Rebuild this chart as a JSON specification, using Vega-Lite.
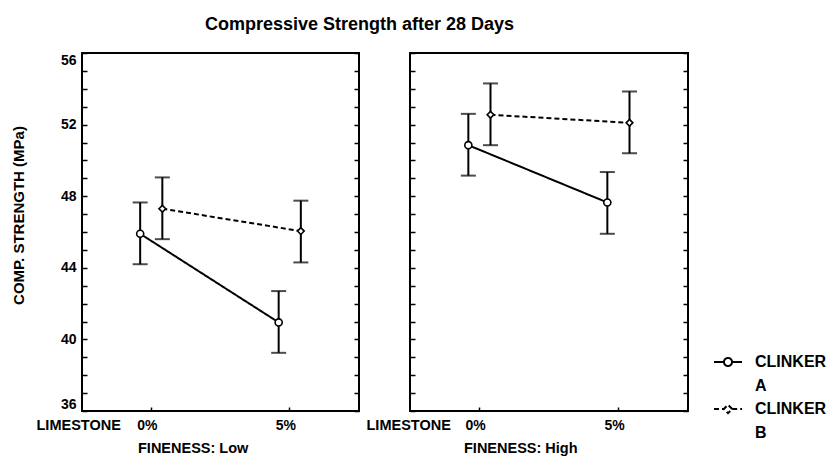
{
  "$schema": "https://vega.github.io/schema/vega-lite/v6.json",
  "padding": {"left": 10, "top": 16, "right": 0, "bottom": 0},
  "bounds": "flush",
  "spacing": 51,
  "data": {
    "values": [
      {"fineness": "Low", "limestone": "0%", "clinker": "A", "mean": 45.9, "lo": 44.2, "hi": 47.65},
      {"fineness": "Low", "limestone": "0%", "clinker": "B", "mean": 47.3, "lo": 45.6, "hi": 49.05},
      {"fineness": "Low", "limestone": "5%", "clinker": "A", "mean": 40.95, "lo": 39.25, "hi": 42.7},
      {"fineness": "Low", "limestone": "5%", "clinker": "B", "mean": 46.05, "lo": 44.3, "hi": 47.75},
      {"fineness": "High", "limestone": "0%", "clinker": "A", "mean": 50.85, "lo": 49.15, "hi": 52.6},
      {"fineness": "High", "limestone": "0%", "clinker": "B", "mean": 52.55, "lo": 50.85, "hi": 54.3},
      {"fineness": "High", "limestone": "5%", "clinker": "A", "mean": 47.65, "lo": 45.9, "hi": 49.35},
      {"fineness": "High", "limestone": "5%", "clinker": "B", "mean": 52.1, "lo": 50.4, "hi": 53.85}
    ]
  },
  "title": {
    "text": "Compressive Strength after 28 Days",
    "anchor": "start",
    "frame": "group",
    "dx": 123,
    "offset": 17,
    "fontSize": 18
  },
  "hconcat": [
    {
      "width": 277,
      "height": 358,
      "transform": [{"filter": "datum.fineness === 'Low'"}],
      "title": {"text": "FINENESS: Low", "orient": "bottom", "anchor": "start", "frame": "group", "dx": 56, "offset": 10, "fontSize": 14.5},
      "encoding": {
        "x": {
          "field": "limestone", "type": "nominal", "sort": ["0%", "5%"],
          "scale": {"paddingInner": 0.68, "paddingOuter": 0.34},
          "axis": {
            "title": "LIMESTONE", "titleX": -46, "titleY": 14, "titleAlign": "left", "titleBaseline": "middle",
            "titleFontSize": 14.5, "titleFontWeight": "bold",
            "labelAngle": 0, "labelFontSize": 14, "labelBaseline": "middle", "labelOffset": -4, "tickSize": -4, "labelPadding": 18
          }
        },
        "xOffset": {"field": "clinker", "type": "nominal", "sort": ["A", "B"]}
      },
      "layer": [
        {
          "mark": {"type": "rule", "color": "black", "strokeWidth": 2},
          "encoding": {
            "y": {
              "field": "lo", "type": "quantitative", "scale": {"domain": [36, 56], "nice": false, "zero": false},
              "axis": {
                "orient": "left", "values": [36,37,38,39,40,41,42,43,44,45,46,47,48,49,50,51,52,53,54,55,56],
                "labelExpr": "datum.value % 4 === 0 ? datum.label : ''",
                "labelFlush": true,
                "tickSize": -5, "labelPadding": 11, "labelFontSize": 14,
                "title": "COMP. STRENGTH (MPa)", "titleFontSize": 15, "titleFontWeight": "bold",
                "titleX": -64, "titleY": 162, "titleAngle": -90, "titleBaseline": "middle", "titleAlign": "center"
              }
            },
            "y2": {"field": "hi"}
          }
        },
        {
          "transform": [{"fold": ["lo", "hi"], "as": ["end", "val"]}],
          "mark": {"type": "tick", "orient": "horizontal", "size": 15, "thickness": 2, "color": "black"},
          "encoding": {
            "y": {
              "field": "val", "type": "quantitative",
              "axis": {"orient": "right", "values": [36,37,38,39,40,41,42,43,44,45,46,47,48,49,50,51,52,53,54,55,56], "labels": false, "tickSize": -5, "title": null}
            }
          }
        },
        {
          "mark": {"type": "line", "color": "black", "strokeWidth": 2},
          "encoding": {
            "y": {"field": "mean", "type": "quantitative", "axis": null},
            "strokeDash": {
              "field": "clinker", "type": "nominal",
              "scale": {"domain": ["A", "B"], "range": [[1, 0], [5, 3]]},
              "legend": {
                "orient": "none", "legendX": 631, "legendY": 294, "title": null,
                "labelExpr": "['CLINKER', datum.label]",
                "labelFont": "Liberation Sans", "labelFontWeight": "bold", "labelFontSize": 16, "labelColor": "black",
                "labelBaseline": "middle", "labelOffset": 12, "rowPadding": -4,
                "symbolSize": 784, "symbolStrokeWidth": 2, "symbolStrokeColor": "black", "symbolFillColor": "white",
                "encode": {
                  "symbols": {
                    "update": {
                      "shape": {"signal": "datum.value === 'A' ? 'M-1,0H-0.29M0.29,0H1M0.29,0A0.29,0.29,0,1,1,-0.29,0A0.29,0.29,0,1,1,0.29,0' : 'M-1,0H-0.3M0.3,0H1M0.3,0L0,-0.3L-0.3,0L0,0.3Z'"}
                    }
                  },
                  "labels": {
                    "update": {"lineHeight": {"value": 24}}
                  }
                }
              }
            }
          }
        },
        {
          "transform": [{"filter": "datum.clinker === 'A'"}],
          "mark": {"type": "point", "shape": "circle", "filled": true, "fill": "white", "stroke": "black", "strokeWidth": 1.6, "size": 50, "opacity": 1},
          "encoding": {
            "y": {"field": "mean", "type": "quantitative", "axis": null}
          }
        },
        {
          "transform": [{"filter": "datum.clinker === 'B'"}],
          "mark": {"type": "point", "shape": "diamond", "filled": true, "fill": "white", "stroke": "black", "strokeWidth": 1.6, "size": 45, "opacity": 1},
          "encoding": {
            "y": {"field": "mean", "type": "quantitative", "axis": null}
          }
        }
      ],
      "resolve": {"axis": {"y": "independent"}}
    },
    {
      "width": 278,
      "height": 358,
      "transform": [{"filter": "datum.fineness === 'High'"}],
      "title": {"text": "FINENESS: High", "orient": "bottom", "anchor": "start", "frame": "group", "dx": 54, "offset": 10, "fontSize": 14.5},
      "encoding": {
        "x": {
          "field": "limestone", "type": "nominal", "sort": ["0%", "5%"],
          "scale": {"paddingInner": 0.68, "paddingOuter": 0.34},
          "axis": {
            "title": "LIMESTONE", "titleX": -44, "titleY": 14, "titleAlign": "left", "titleBaseline": "middle",
            "titleFontSize": 14.5, "titleFontWeight": "bold",
            "labelAngle": 0, "labelFontSize": 14, "labelBaseline": "middle", "labelOffset": -4, "tickSize": -4, "labelPadding": 18
          }
        },
        "xOffset": {"field": "clinker", "type": "nominal", "sort": ["A", "B"]}
      },
      "layer": [
        {
          "mark": {"type": "rule", "color": "black", "strokeWidth": 2},
          "encoding": {
            "y": {
              "field": "lo", "type": "quantitative", "scale": {"domain": [36, 56], "nice": false, "zero": false},
              "axis": {
                "orient": "left", "values": [36,37,38,39,40,41,42,43,44,45,46,47,48,49,50,51,52,53,54,55,56],
                "labels": false, "tickSize": -5, "title": null
              }
            },
            "y2": {"field": "hi"}
          }
        },
        {
          "transform": [{"fold": ["lo", "hi"], "as": ["end", "val"]}],
          "mark": {"type": "tick", "orient": "horizontal", "size": 15, "thickness": 2, "color": "black"},
          "encoding": {
            "y": {
              "field": "val", "type": "quantitative",
              "axis": {"orient": "right", "values": [36,37,38,39,40,41,42,43,44,45,46,47,48,49,50,51,52,53,54,55,56], "labels": false, "tickSize": -5, "title": null}
            }
          }
        },
        {
          "mark": {"type": "line", "color": "black", "strokeWidth": 2},
          "encoding": {
            "y": {"field": "mean", "type": "quantitative", "axis": null},
            "strokeDash": {
              "field": "clinker", "type": "nominal",
              "scale": {"domain": ["A", "B"], "range": [[1, 0], [5, 3]]}
            }
          }
        },
        {
          "transform": [{"filter": "datum.clinker === 'A'"}],
          "mark": {"type": "point", "shape": "circle", "filled": true, "fill": "white", "stroke": "black", "strokeWidth": 1.6, "size": 50, "opacity": 1},
          "encoding": {
            "y": {"field": "mean", "type": "quantitative", "axis": null}
          }
        },
        {
          "transform": [{"filter": "datum.clinker === 'B'"}],
          "mark": {"type": "point", "shape": "diamond", "filled": true, "fill": "white", "stroke": "black", "strokeWidth": 1.6, "size": 45, "opacity": 1},
          "encoding": {
            "y": {"field": "mean", "type": "quantitative", "axis": null}
          }
        }
      ],
      "resolve": {"axis": {"y": "independent"}}
    }
  ],
  "config": {
    "font": "Liberation Sans",
    "background": "white",
    "view": {"stroke": "black", "strokeWidth": 2},
    "axis": {
      "labelFont": "Liberation Sans", "labelFontWeight": "bold", "labelColor": "black",
      "titleFont": "Liberation Sans", "titleColor": "black",
      "tickColor": "black", "tickWidth": 1.5, "domain": false, "grid": false
    },
    "title": {"font": "Liberation Sans", "fontWeight": "bold", "color": "black"}
  }
}
